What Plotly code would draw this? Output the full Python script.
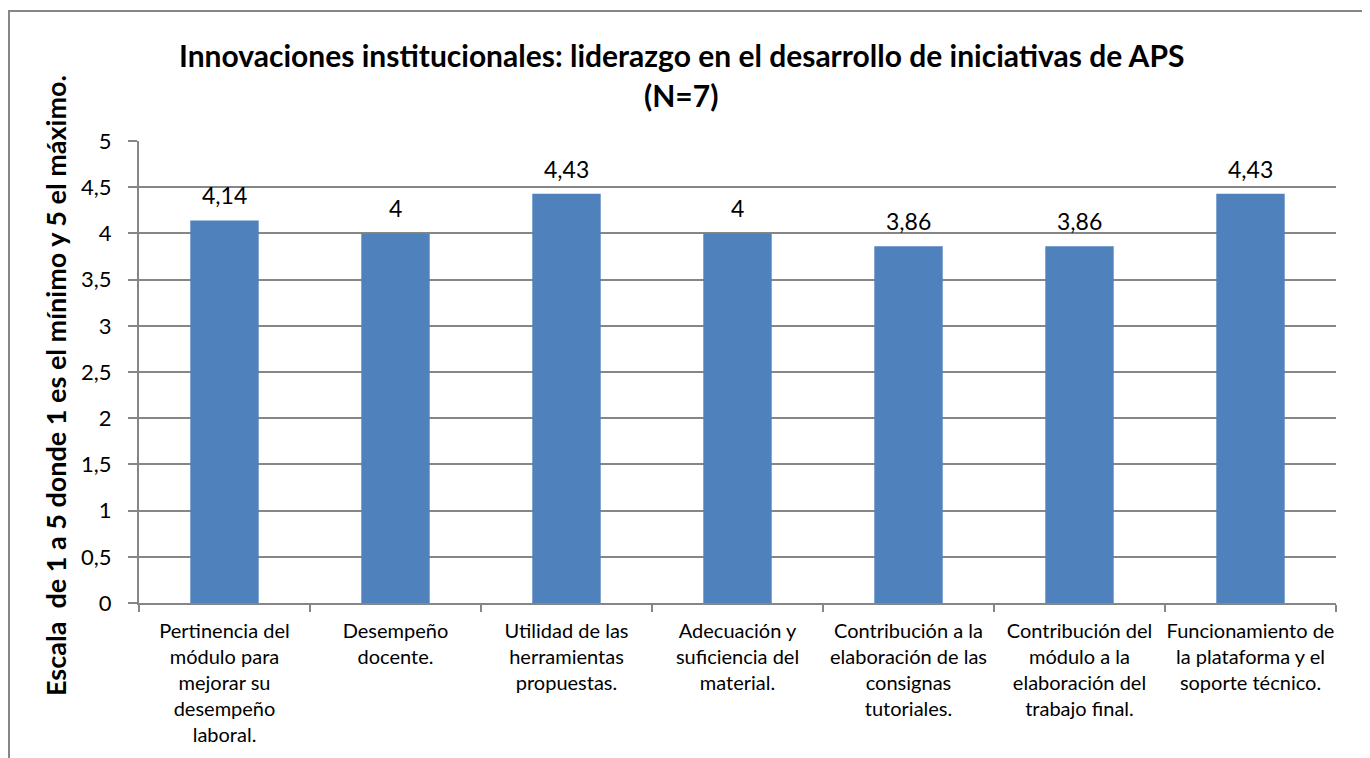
import plotly.graph_objects as go

categories = [
    "Pertinencia del<br>módulo para<br>mejorar su<br>desempeño<br>laboral.",
    "Desempeño<br>docente.",
    "Utilidad de las<br>herramientas<br>propuestas.",
    "Adecuación y<br>suficiencia del<br>material.",
    "Contribución a la<br>elaboración de las<br>consignas<br>tutoriales.",
    "Contribución del<br>módulo a la<br>elaboración del<br>trabajo final.",
    "Funcionamiento de<br>la plataforma y el<br>soporte técnico.",
]
values = [4.14, 4, 4.43, 4, 3.86, 3.86, 4.43]
title_lines = ["Innovaciones institucionales: liderazgo en el desarrollo de iniciativas de APS", "(N=7)"]
y_title = "Escala  de 1 a 5 donde 1 es el mínimo y 5 el máximo."
y_ticks = [0, 0.5, 1, 1.5, 2, 2.5, 3, 3.5, 4, 4.5, 5]

FONT = "Lato"
GRID = "#868686"

def fmt(v):
    s = f"{v:g}"
    return s.replace(".", ",")

fig = go.Figure()
fig.add_trace(go.Bar(x=categories, y=values, marker=dict(color="#4F81BD", line=dict(width=0)),
                     hoverinfo="x+y"))

OFF = 8  # page body margin
W, H = 1370 - OFF, 758 - OFF
L, R, T, B = 139 - OFF, 1336 - OFF, 141 - OFF, 603 - OFF
pw, ph = R - L, B - T

def px(xp):  # page x -> paper
    return (xp - OFF - L) / pw

def py(yp):  # page y -> paper
    return (B - (yp - OFF)) / ph

annotations = []
for c, v in zip(categories, values):
    annotations.append(dict(x=c, y=v, xref="x", yref="y", text=fmt(v), showarrow=False,
                            yanchor="middle", yshift=25, font=dict(family=FONT, size=23, color="black")))
annotations.append(dict(x=px(681), y=py(55), xref="paper", yref="paper", text="<b>" + title_lines[0] + "</b>",
                        showarrow=False, xanchor="center", yanchor="middle",
                        font=dict(family=FONT, size=30, color="black")))
annotations.append(dict(x=px(681), y=py(95), xref="paper", yref="paper", text="<b>" + title_lines[1] + "</b>",
                        showarrow=False, xanchor="center", yanchor="middle",
                        font=dict(family=FONT, size=30, color="black")))
annotations.append(dict(x=px(55), y=py(386), xref="paper", yref="paper", text="<b>" + y_title + "</b>",
                        showarrow=False, xanchor="center", yanchor="middle", textangle=-90,
                        font=dict(family=FONT, size=27, color="black")))

fig.update_layout(
    width=W, height=H,
    margin=dict(l=L, r=W - R, t=T, b=H - B, pad=0),
    paper_bgcolor="white", plot_bgcolor="white",
    bargap=0.6, showlegend=False,
    annotations=annotations,
    shapes=[dict(type="rect", xref="paper", yref="paper",
                 x0=px(9), x1=px(1363), y0=py(800), y1=py(11),
                 line=dict(color=GRID, width=2), fillcolor="rgba(0,0,0,0)", layer="below")],
    xaxis=dict(tickson="boundaries", ticks="outside", ticklen=7, tickcolor=GRID, tickwidth=2,
               showline=True, linecolor=GRID, linewidth=2, showgrid=False, ticklabelstandoff=9,
               tickfont=dict(family=FONT, size=20, color="black"), tickangle=0, fixedrange=True),
    yaxis=dict(range=[0, 5], tickvals=y_ticks, ticktext=[fmt(t) for t in y_ticks],
               ticks="outside", ticklen=9, tickcolor=GRID, tickwidth=2, ticklabelstandoff=12,
               showline=True, linecolor=GRID, linewidth=2, showgrid=True, gridcolor=GRID, gridwidth=2,
               zeroline=False, tickfont=dict(family=FONT, size=22, color="black"), fixedrange=True),
)

fig.write_html("out.html")
